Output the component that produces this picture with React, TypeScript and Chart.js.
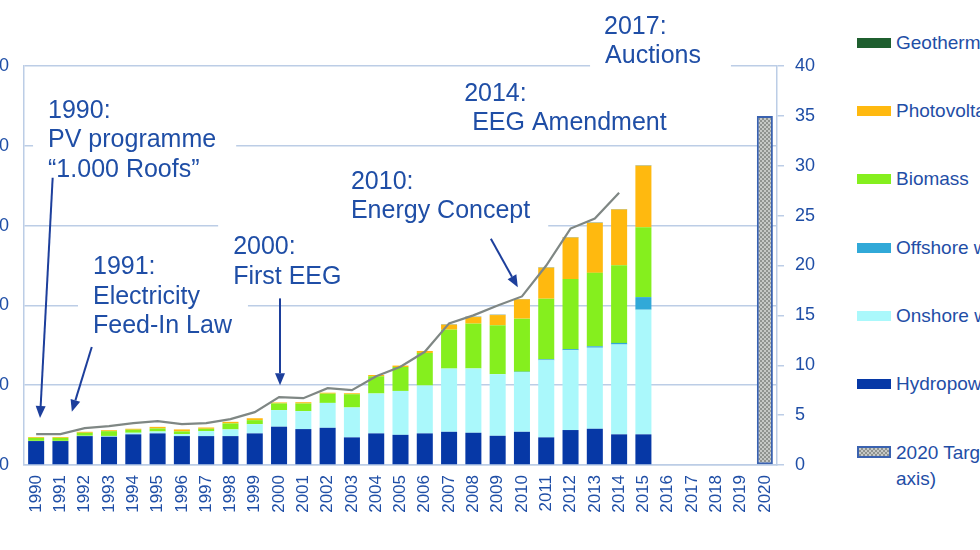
import React, { useEffect, useRef } from "react";
import { Chart, registerables } from "chart.js";

Chart.register(...registerables);

// ---------- data ----------
const years = [
  "1990", "1991", "1992", "1993", "1994", "1995", "1996", "1997", "1998", "1999",
  "2000", "2001", "2002", "2003", "2004", "2005", "2006", "2007", "2008", "2009",
  "2010", "2011", "2012", "2013", "2014", "2015", "2016", "2017", "2018", "2019", "2020",
];

// TWh (left axis)
const hydropower = [15.0, 15.0, 18.1, 17.7, 19.2, 19.8, 18.1, 18.1, 18.1, 19.8, 24.0, 22.5, 23.3, 17.3, 19.8, 18.9, 19.8, 20.8, 20.2, 18.3, 20.8, 17.3, 21.9, 22.7, 19.2, 19.2];
const onshoreWind = [0.1, 0.1, 0.2, 0.5, 1.0, 1.2, 1.25, 3.1, 4.2, 5.8, 10.4, 11.25, 15.6, 18.75, 25.0, 27.5, 30.0, 39.6, 40.3, 38.6, 37.5, 48.3, 50.0, 50.8, 56.3, 78.1];
const offshoreWind = [0, 0, 0, 0, 0, 0, 0, 0, 0, 0, 0, 0, 0, 0, 0, 0, 0, 0, 0, 0.04, 0.2, 0.6, 0.7, 0.9, 1.0, 7.9];
const biomass = [1.9, 1.9, 1.9, 3.0, 1.9, 1.9, 1.7, 1.5, 3.75, 2.5, 4.2, 4.8, 5.8, 8.3, 10.8, 15.0, 20.4, 24.4, 28.1, 30.6, 33.2, 38.0, 43.9, 46.0, 48.6, 43.75];
const photovoltaics = [0.5, 0.5, 0.6, 0.6, 0.6, 1.0, 1.25, 0.8, 1.0, 1.2, 0.6, 0.8, 0.6, 0.6, 0.8, 0.9, 1.25, 3.1, 4.1, 6.4, 12.1, 19.4, 26.0, 31.3, 35.0, 38.6];
const geothermal = [0, 0, 0, 0, 0, 0, 0, 0, 0, 0, 0, 0, 0, 0, 0, 0, 0, 0.2, 0.2, 0.2, 0.2, 0.2, 0.2, 0.2, 0.2, 0.2];

// % (right axis)
const renewableShare = [3.1, 3.1, 3.7, 3.9, 4.2, 4.4, 4.1, 4.2, 4.6, 5.3, 6.8, 6.7, 7.7, 7.5, 8.9, 9.85, 11.35, 14.2, 15.0, 16.0, 16.9, 20.0, 23.7, 24.7, 27.3];
const targetYear = "2020";
const targetValue = 35;

const leftAxisMax = 250;
const leftAxisStep = 50;
const rightAxisMax = 40;
const rightAxisStep = 5;

// annotations: anchor in data units (category index, left-axis TWh)
const annotations = [
  { lines: ["1990:", "PV programme", "\u201C1.000 Roofs\u201D"], at: [0.49, 221.9], indent: [0, 0, 0], pad: [15, 20, 20, 20] },
  { lines: ["1991:", "Electricity", "Feed-In Law"], at: [2.34, 123.75], indent: [0, 0, 0], pad: [15, 20, 16, 20] },
  { lines: ["2000:", "First EEG"], at: [8.11, 136.25], indent: [0, 0], pad: [15, 25, 6, 20] },
  { lines: ["2010:", "Energy Concept"], at: [12.96, 177.5], indent: [0, 0], pad: [6, 20, 18, 20] },
  { lines: ["2014:", "EEG Amendment"], at: [17.62, 232.5], indent: [0, 8], pad: [6, 12, 6, 12] },
  { lines: ["2017:", "Auctions"], at: [23.38, 274.4], indent: [0, 1], pad: [14, 12, 30, 20] },
];
const arrows = [
  { from: [0.68, 180], to: [0.16, 29.4] },
  { from: [2.29, 73.9], to: [1.47, 33.3] },
  { from: [10.04, 104.4], to: [10.04, 50] },
  { from: [18.72, 141.7], to: [19.83, 111.4] },
];

// ---------- style ----------
const FONT = "'Liberation Sans', Arial, sans-serif";
const TEXT = "#1f4ea6";
const ARROW = "#1d3f9c";
const GRID = "#bccde6";
const C_HYDRO = "#0638a6";
const C_ONSHORE = "#aaf8fb";
const C_OFFSHORE = "#31a9d8";
const C_BIOMASS = "#85ef1e";
const C_PV = "#ffb90f";
const C_GEO = "#1f5f2f";
const C_TARGET_BORDER = "#3a62b0";
const ANN_FONT = 25;
const LINE_H = 29.5;

const legendItems = [
  { label: "Geothermal", color: C_GEO },
  { label: "Photovoltaics", color: C_PV },
  { label: "Biomass", color: C_BIOMASS },
  { label: "Offshore wind", color: C_OFFSHORE },
  { label: "Onshore wind", color: C_ONSHORE },
  { label: "Hydropower", color: C_HYDRO },
];

const annotationPlugin = {
  id: "eventAnnotations",
  beforeDatasetsDraw(chart: any) {
    const { ctx } = chart;
    const x = chart.scales.x;
    const y = chart.scales.y;
    ctx.save();
    ctx.font = `${ANN_FONT}px ${FONT}`;
    ctx.textBaseline = "middle";
    ctx.textAlign = "left";
    for (const a of annotations) {
      const px = x.getPixelForValue(a.at[0]);
      const py = y.getPixelForValue(a.at[1]);
      const w = Math.max(...a.lines.map((l, i) => ctx.measureText(l).width + a.indent[i]));
      const h = (a.lines.length - 1) * LINE_H;
      ctx.fillStyle = "#ffffff";
      ctx.fillRect(px - a.pad[0], py - a.pad[1], w + a.pad[0] + a.pad[2], h + a.pad[1] + a.pad[3]);
      ctx.fillStyle = TEXT;
      a.lines.forEach((l, i) => ctx.fillText(l, px + a.indent[i], py + i * LINE_H));
    }
    ctx.restore();
  },
  afterDatasetsDraw(chart: any) {
    const { ctx } = chart;
    const x = chart.scales.x;
    const y = chart.scales.y;
    ctx.save();
    ctx.strokeStyle = ARROW;
    ctx.fillStyle = ARROW;
    ctx.lineWidth = 2;
    for (const a of arrows) {
      const x1 = x.getPixelForValue(a.from[0]);
      const y1 = y.getPixelForValue(a.from[1]);
      const x2 = x.getPixelForValue(a.to[0]);
      const y2 = y.getPixelForValue(a.to[1]);
      const ang = Math.atan2(y2 - y1, x2 - x1);
      const headL = 12;
      const headW = 5;
      const bx = x2 - headL * Math.cos(ang);
      const by = y2 - headL * Math.sin(ang);
      ctx.beginPath();
      ctx.moveTo(x1, y1);
      ctx.lineTo(bx, by);
      ctx.stroke();
      ctx.beginPath();
      ctx.moveTo(x2, y2);
      ctx.lineTo(bx + headW * Math.sin(ang), by - headW * Math.cos(ang));
      ctx.lineTo(bx - headW * Math.sin(ang), by + headW * Math.cos(ang));
      ctx.closePath();
      ctx.fill();
    }
    ctx.restore();
  },
};

function makePattern(): CanvasPattern | string {
  const c = document.createElement("canvas");
  c.width = 4;
  c.height = 4;
  const g = c.getContext("2d");
  if (!g) return "#aaaaaa";
  g.fillStyle = "#c6c9c6";
  g.fillRect(0, 0, 4, 4);
  g.fillStyle = "#8f938f";
  g.fillRect(0, 0, 2, 2);
  g.fillRect(2, 2, 2, 2);
  const p = g.createPattern(c, "repeat");
  return p || "#aaaaaa";
}

export default function App() {
  const ref = useRef<HTMLCanvasElement | null>(null);

  useEffect(() => {
    if (!ref.current) return;
    const pattern = makePattern();
    const targetData = years.map((yr) => (yr === targetYear ? targetValue : null));
    const barCommon = { yAxisID: "y", order: 1, barPercentage: 0.66, categoryPercentage: 1, borderWidth: 0 };
    const chart = new Chart(ref.current, {
      type: "bar",
      data: {
        labels: years,
        datasets: [
          {
            type: "line",
            label: "Share",
            data: renewableShare,
            yAxisID: "y1",
            order: 0,
            borderColor: "#7f8784",
            borderWidth: 2.2,
            pointRadius: 0,
            tension: 0,
            fill: false,
          } as any,
          { ...barCommon, label: "Hydropower", data: hydropower, backgroundColor: C_HYDRO },
          { ...barCommon, label: "Onshore wind", data: onshoreWind, backgroundColor: C_ONSHORE },
          { ...barCommon, label: "Offshore wind", data: offshoreWind, backgroundColor: C_OFFSHORE },
          { ...barCommon, label: "Biomass", data: biomass, backgroundColor: C_BIOMASS },
          { ...barCommon, label: "Photovoltaics", data: photovoltaics, backgroundColor: C_PV },
          { ...barCommon, label: "Geothermal", data: geothermal, backgroundColor: C_GEO },
          {
            label: "2020 Target (right axis)",
            data: targetData,
            yAxisID: "y1",
            order: 1,
            barPercentage: 0.66,
            categoryPercentage: 1,
            backgroundColor: pattern as any,
            borderColor: C_TARGET_BORDER,
            borderWidth: 2,
            borderSkipped: false,
          } as any,
        ],
      },
      options: {
        responsive: false,
        animation: false,
        devicePixelRatio: 1,
        events: [],
        layout: { padding: { top: 66, left: 0, right: 0, bottom: 0 } },
        plugins: { legend: { display: false }, tooltip: { enabled: false } },
        scales: {
          x: {
            stacked: true,
            offset: true,
            grid: { display: true, drawOnChartArea: false, drawTicks: false },
            border: { display: true, color: GRID, width: 1.5 },
            ticks: {
              autoSkip: false,
              maxRotation: 90,
              minRotation: 90,
              padding: 10,
              color: TEXT,
              font: { family: FONT, size: 17 },
            },
            afterFit: (s: any) => {
              s.height = 85;
            },
          },
          y: {
            position: "left",
            stacked: true,
            min: 0,
            max: leftAxisMax,
            grid: { color: GRID, lineWidth: 1.5, drawTicks: false },
            border: { display: true, color: GRID, width: 1.5 },
            ticks: {
              stepSize: leftAxisStep,
              padding: 15,
              color: TEXT,
              font: { family: FONT, size: 18 },
            },
            afterFit: (s: any) => {
              s.width = 64;
            },
          },
          y1: {
            position: "right",
            stacked: false,
            min: 0,
            max: rightAxisMax,
            grid: { drawOnChartArea: false, drawTicks: true, tickLength: 7, color: GRID, lineWidth: 1.5 },
            border: { display: true, color: GRID, width: 1.5 },
            ticks: {
              stepSize: rightAxisStep,
              padding: 11,
              color: TEXT,
              font: { family: FONT, size: 18 },
            },
            afterFit: (s: any) => {
              s.width = 63;
            },
          },
        },
      },
      plugins: [annotationPlugin],
    } as any);
    return () => chart.destroy();
  }, []);

  const legendTop = (i: number) => 43 + i * 68.2;

  return (
    <div
      style={{
        position: "fixed",
        left: 0,
        top: 0,
        width: 980,
        height: 550,
        overflow: "hidden",
        background: "#ffffff",
        fontFamily: FONT,
      }}
    >
      <canvas ref={ref} width={880} height={550} style={{ position: "absolute", left: -40, top: 0 }} />
      {legendItems.map((it, i) => (
        <div key={it.label} style={{ position: "absolute", left: 857, top: legendTop(i) - 12, height: 24, whiteSpace: "nowrap" }}>
          <div style={{ position: "absolute", left: 0, top: 7, width: 34, height: 10, background: it.color }} />
          <div style={{ position: "absolute", left: 39, top: 0, fontSize: 19, lineHeight: "24px", color: TEXT }}>{it.label}</div>
        </div>
      ))}
      <div style={{ position: "absolute", left: 857, top: legendTop(6) - 12, whiteSpace: "nowrap" }}>
        <div
          style={{
            position: "absolute",
            left: 0,
            top: 6,
            width: 34,
            height: 12,
            boxSizing: "border-box",
            border: `2px solid ${C_TARGET_BORDER}`,
            background: "repeating-conic-gradient(#8f938f 0 25%, #c6c9c6 0 50%) 0 0 / 4px 4px",
          }}
        />
        <div style={{ position: "absolute", left: 39, top: 0, fontSize: 19, lineHeight: "26px", color: TEXT }}>
          2020 Target (right
          <br />
          axis)
        </div>
      </div>
    </div>
  );
}
